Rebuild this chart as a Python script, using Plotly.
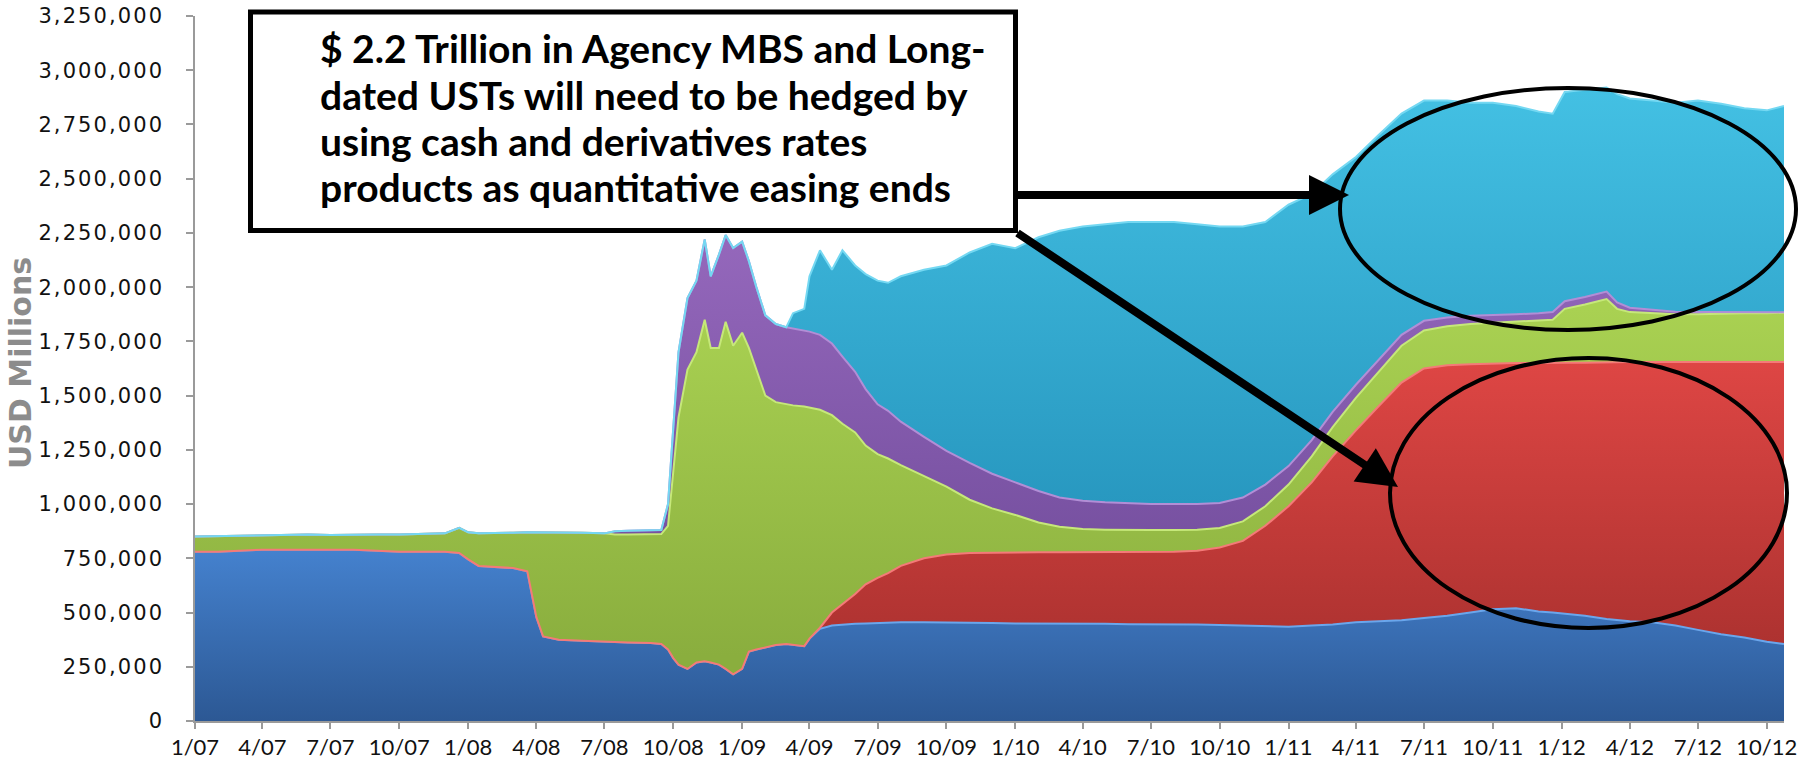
import plotly.graph_objects as go

# Weekly-sampled Fed holdings, USD millions (stacked bottom to top)
dates = [
    "2007-01-01", "2007-02-01", "2007-03-01", "2007-04-01", "2007-05-01", "2007-06-01",
    "2007-07-01", "2007-08-01", "2007-09-01", "2007-10-01", "2007-11-01", "2007-12-01", "2007-12-20",
    "2008-01-01", "2008-01-15", "2008-02-01", "2008-03-01", "2008-03-20", "2008-04-01",
    "2008-04-10", "2008-05-01", "2008-06-01", "2008-07-01", "2008-07-15", "2008-08-01",
    "2008-09-01", "2008-09-15", "2008-09-24", "2008-10-01", "2008-10-08", "2008-10-20",
    "2008-11-01", "2008-11-12", "2008-11-20", "2008-12-01", "2008-12-10", "2008-12-20",
    "2009-01-01", "2009-01-10", "2009-01-20", "2009-02-01", "2009-02-15", "2009-03-01",
    "2009-03-10", "2009-03-25", "2009-04-01", "2009-04-15", "2009-05-01", "2009-05-15",
    "2009-06-01", "2009-06-15", "2009-07-01", "2009-07-15", "2009-08-01", "2009-09-01",
    "2009-10-01", "2009-11-01", "2009-12-01",
    "2010-01-01", "2010-02-01", "2010-03-01", "2010-04-01", "2010-05-01", "2010-06-01",
    "2010-07-01", "2010-08-01", "2010-09-01", "2010-10-01", "2010-11-01", "2010-12-01",
    "2011-01-01", "2011-02-01", "2011-03-01", "2011-04-01", "2011-05-01", "2011-06-01",
    "2011-07-01", "2011-08-01", "2011-09-01", "2011-10-01", "2011-11-01", "2011-12-01", "2011-12-20",
    "2012-01-05", "2012-02-01", "2012-03-01", "2012-03-15", "2012-04-01", "2012-05-01",
    "2012-06-01", "2012-07-01", "2012-08-01", "2012-09-01", "2012-10-01", "2012-10-24",
]

short_treasuries = [
    780000, 780000, 785000, 790000, 790000, 790000, 790000, 790000, 785000, 780000, 780000, 780000, 775000,
    745000, 715000, 712000, 705000, 690000, 480000, 390000, 375000, 370000, 365000, 365000, 362000,
    360000, 355000, 330000, 290000, 260000, 240000, 270000, 275000, 270000, 260000, 240000, 215000,
    240000, 320000, 330000, 340000, 350000, 355000, 350000, 345000, 380000, 425000, 440000, 445000,
    448000, 450000, 452000, 455000, 455000, 455000, 455000, 455000, 452000,
    450000, 450000, 448000, 448000, 448000, 446000, 446000, 445000, 445000, 442000, 440000, 438000,
    435000, 440000, 445000, 455000, 460000, 465000, 475000, 485000, 500000, 515000, 520000, 505000, 500000,
    495000, 485000, 470000, 465000, 460000, 455000, 440000, 420000, 400000, 385000, 365000, 355000,
]

long_treasuries = [
    0, 0, 0, 0, 0, 0, 0, 0, 0, 0, 0, 0, 0,
    0, 0, 0, 0, 0, 0, 0, 0, 0, 0, 0, 0,
    0, 0, 0, 0, 0, 0, 0, 0, 0, 0, 0, 0,
    0, 0, 0, 0, 0, 0, 0, 0, 0, 5000, 60000, 95000,
    137000, 180000, 208000, 227000, 260000, 295000, 313000, 320000, 325000,
    327000, 328000, 330000, 330000, 330000, 332000, 332000, 335000, 340000, 358000, 390000, 462000,
    555000, 660000, 775000, 885000, 990000, 1095000, 1150000, 1155000, 1145000, 1133000, 1130000, 1145000, 1152000,
    1157000, 1167000, 1185000, 1190000, 1195000, 1200000, 1215000, 1235000, 1255000, 1270000, 1290000, 1300000,
]

liquidity_facilities = [
    70000, 72000, 70000, 68000, 70000, 70000, 68000, 70000, 75000, 80000, 82000, 85000, 115000,
    125000, 150000, 153000, 163000, 180000, 390000, 480000, 495000, 498000, 500000, 495000, 498000,
    500000, 507000, 570000, 860000, 1140000, 1380000, 1430000, 1575000, 1450000, 1460000, 1600000, 1515000,
    1550000, 1400000, 1290000, 1160000, 1120000, 1105000, 1105000, 1105000, 1065000, 1005000, 910000, 830000,
    745000, 640000, 570000, 528000, 465000, 380000, 312000, 245000, 203000,
    173000, 137000, 117000, 107000, 104000, 102000, 102000, 100000, 97000, 90000, 90000, 90000,
    100000, 120000, 135000, 150000, 160000, 170000, 175000, 180000, 185000, 187000, 190000, 195000, 198000,
    248000, 268000, 290000, 245000, 230000, 225000, 220000, 220000, 223000, 225000, 225000, 227000,
]

other_credit = [
    0, 0, 0, 0, 0, 0, 0, 0, 0, 0, 0, 0, 0,
    0, 0, 0, 0, 0, 0, 0, 0, 0, 0, 15000, 17000,
    17000, 18000, 100000, 200000, 300000, 330000, 330000, 370000, 330000, 430000, 400000, 450000,
    420000, 400000, 380000, 370000, 360000, 355000, 355000, 350000, 350000, 345000, 330000, 310000,
    280000, 260000, 230000, 220000, 200000, 180000, 165000, 170000, 160000,
    150000, 145000, 135000, 130000, 126000, 123000, 120000, 120000, 118000, 115000, 110000, 100000,
    85000, 75000, 70000, 60000, 55000, 50000, 45000, 40000, 38000, 35000, 35000, 35000, 35000,
    35000, 35000, 35000, 30000, 20000, 15000, 12000, 10000, 7000, 5000, 3000, 2000,
]

agency_mbs = [
    0, 0, 0, 0, 0, 0, 0, 0, 0, 0, 0, 0, 0,
    0, 0, 0, 0, 0, 0, 0, 0, 0, 0, 0, 0,
    0, 0, 0, 0, 0, 0, 0, 0, 0, 0, 0, 0,
    0, 0, 0, 0, 0, 0, 70000, 100000, 255000, 390000, 340000, 490000,
    490000, 530000, 570000, 590000, 670000, 770000, 855000, 970000, 1060000,
    1080000, 1170000, 1230000, 1265000, 1282000, 1297000, 1300000, 1300000, 1290000, 1275000, 1250000, 1210000,
    1205000, 1135000, 1095000, 1050000, 1035000, 1020000, 1015000, 1000000, 982000, 980000, 960000, 930000, 915000,
    965000, 955000, 940000, 960000, 965000, 965000, 963000, 975000, 960000, 940000, 932000, 951000,
]

tick_dates = [
    "2007-01-01", "2007-04-01", "2007-07-01", "2007-10-01", "2008-01-01", "2008-04-01",
    "2008-07-01", "2008-10-01", "2009-01-01", "2009-04-01", "2009-07-01", "2009-10-01",
    "2010-01-01", "2010-04-01", "2010-07-01", "2010-10-01", "2011-01-01", "2011-04-01",
    "2011-07-01", "2011-10-01", "2012-01-01", "2012-04-01", "2012-07-01", "2012-10-01",
]
tick_labels = [
    "1/07", "4/07", "7/07", "10/07", "1/08", "4/08", "7/08", "10/08", "1/09", "4/09", "7/09", "10/09",
    "1/10", "4/10", "7/10", "10/10", "1/11", "4/11", "7/11", "10/11", "1/12", "4/12", "7/12", "10/12",
]
y_ticks = [i * 250000 for i in range(14)]

headline = [
    "$ 2.2 Trillion in Agency MBS and Long-",
    "dated USTs will need to be hedged by",
    "using cash and derivatives rates",
    "products as quantitative easing ends",
]

# Page geometry (pixels)
W, H = 1819, 767
ML, MR, MT, MB = 195, 35, 16, 46
PW, PH = W - ML - MR, H - MT - MB


def px(x):
    return (x - ML) / PW


def py(y):
    return (H - MB - y) / PH


def spaced(n):
    # wide, airy tick numerals: hair space between characters
    return "\u200a".join(f"{n:,}")


series = [
    ("Short-dated Treasuries", short_treasuries, "#2c5894", "#4582cf", "#6aa6ec", 0, 800000),
    ("Long-dated Treasuries", long_treasuries, "#ad3230", "#de4644", "#f47a78", 350000, 1660000),
    ("Liquidity facilities", liquidity_facilities, "#8aae3e", "#a9d152", "#c6e87a", 300000, 1900000),
    ("Other credit", other_credit, "#7650a0", "#9568bc", "#b28ed6", 800000, 2250000),
    ("Agency MBS and debt", agency_mbs, "#2898c0", "#43c0e3", "#74d8f2", 1000000, 2900000),
]

fig = go.Figure()
for name, vals, dark, light, edge, g0, g1 in series:
    fig.add_trace(go.Scatter(
        x=dates, y=vals, name=name, stackgroup="one", mode="lines",
        line=dict(color=edge, width=2, shape="linear"),
        fillgradient=dict(type="vertical", colorscale=[[0, dark], [1, light]], start=g0, stop=g1),
        hoverinfo="skip",
    ))

shapes = [
    # callout box
    dict(type="rect", xref="paper", yref="paper", x0=px(250.5), x1=px(1015.5), y0=py(230.5), y1=py(12),
         line=dict(color="black", width=5), fillcolor="white", layer="above"),
    # highlight rings
    dict(type="circle", xref="paper", yref="paper", x0=px(1340), x1=px(1796), y0=py(330), y1=py(88),
         line=dict(color="black", width=4), layer="above"),
    dict(type="circle", xref="paper", yref="paper", x0=px(1390), x1=px(1787), y0=py(628), y1=py(358),
         line=dict(color="black", width=4), layer="above"),
]

annotations = []
line_y = [48, 95, 141, 187]
for txt, yy in zip(headline, line_y):
    annotations.append(dict(
        text=txt, xref="paper", yref="paper", x=px(318), y=py(yy), xanchor="left", yanchor="middle",
        showarrow=False, font=dict(family="Lato", size=39, color="black", weight="bold"),
    ))

# arrows from the callout
annotations.append(dict(
    text="", xref="paper", yref="paper", x=px(1349), y=py(195), axref="pixel", ayref="pixel",
    ax=-333, ay=0, showarrow=True, arrowhead=2, arrowsize=1.0, arrowwidth=8, arrowcolor="black",
))
annotations.append(dict(
    text="", xref="paper", yref="paper", x=px(1398), y=py(487), axref="pixel", ayref="pixel",
    ax=-382, ay=-255, showarrow=True, arrowhead=2, arrowsize=1.0, arrowwidth=8, arrowcolor="black",
))

# axis title
annotations.append(dict(
    text="USD Millions", xref="paper", yref="paper", x=px(20), y=py(363), textangle=-90,
    xanchor="center", yanchor="middle", showarrow=False,
    font=dict(family="DejaVu Sans", size=30, color="#8c8c8c", weight="bold"),
))

fig.update_layout(
    width=W, height=H,
    margin=dict(l=ML, r=MR, t=MT, b=MB, pad=0, autoexpand=False),
    paper_bgcolor="white", plot_bgcolor="white",
    showlegend=False,
    shapes=shapes,
    annotations=annotations,
    xaxis=dict(
        type="date", range=["2007-01-01", "2012-10-24"], automargin=False,
        tickmode="array", tickvals=tick_dates, ticktext=tick_labels,
        ticks="outside", ticklen=6, tickwidth=1.5, tickcolor="#9a9a9a",
        showline=True, linecolor="#9a9a9a", linewidth=1.5, showgrid=False, zeroline=False,
        tickfont=dict(family="Lato", size=22, color="#111111"),
    ),
    yaxis=dict(
        range=[0, 3250000], automargin=False,
        tickmode="array", tickvals=y_ticks, ticktext=[spaced(v) for v in y_ticks],
        ticks="outside", ticklen=7, tickwidth=1.5, tickcolor="#9a9a9a", ticklabelstandoff=20,
        showline=True, linecolor="#9a9a9a", linewidth=1.5, showgrid=False, zeroline=False,
        tickfont=dict(family="DejaVu Sans", size=21, color="#111111"),
    ),
)

fig.write_html("out.html")
